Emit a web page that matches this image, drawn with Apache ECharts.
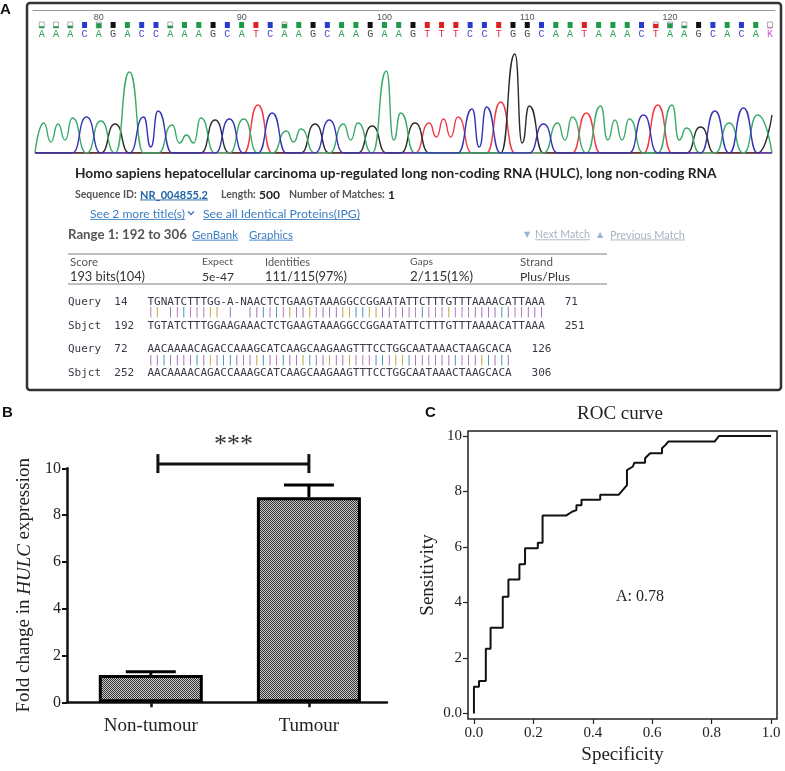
<!DOCTYPE html>
<html><head><meta charset="utf-8">
<script src="https://cdn.jsdelivr.net/npm/echarts@6/dist/echarts.min.js"></script>
<style>html,body{margin:0;padding:0;background:#fff}#c{width:785px;height:771px}</style>
</head><body><div id="c"></div>
<script>
// ================= DATA =================
// Panel A: chromatogram
const chromStart = 76;
const chromBases = "AAACAGACCAAAGCATCAAGCAAGAAGTTTCCTGGCAATAAACTAAGCACAK".split('');
const peakHeights = [30,29,35,36,32,29,81,36,42,28,18,35,33,34,34,48,40,22,24,29,33,29,30,27,82,40,30,30,34,36,44,46,51,99,47,29,30,36,40,47,33,34,38,48,48,25,26,42,30,45,38,38];
const troughHeights = {0:11,1:13,7:6,9:10,10:10,17:11,21:13,24:13,27:16,28:16,30:6,33:10,36:13,39:13,40:13,44:13};
const baseQuality = [0.3,0.3,0.4,1,0.8,1,1,1,1,0.4,1,1,1,1,1,1,1,0.7,1,1,1,1,1,1,1,1,1,1,1,1,1,1,1,1,1,1,1,1,1,1,1,1,1,0.7,0.8,0.4,1,1,1,1,1,0.2];
const rulerTicks = [80,90,100,110,120];

// Panel A: BLAST text
const blastTitle = "Homo sapiens hepatocellular carcinoma up-regulated long non-coding RNA (HULC), long non-coding RNA";
const seqIdLabel = "Sequence ID:", seqIdValue = "NR_004855.2";
const lengthLabel = "Length:", lengthValue = "500";
const matchesLabel = "Number of Matches:", matchesValue = "1";
const moreTitles = "See 2 more title(s)", identicalProteins = "See all Identical Proteins(IPG)";
const rangeText = "Range 1: 192 to 306", linkGenBank = "GenBank", linkGraphics = "Graphics";
const nextMatch = "Next Match", prevMatch = "Previous Match";
const statHeaders = ["Score","Expect","Identities","Gaps","Strand"];
const statValues = ["193 bits(104)","5e-47","111/115(97%)","2/115(1%)","Plus/Plus"];
const alignQuery = ["TGNATCTTTGG-A-NAACTCTGAAGTAAAGGCCGGAATATTCTTTGTTTAAAACATTAAA","AACAAAACAGACCAAAGCATCAAGCAAGAAGTTTCCTGGCAATAAACTAAGCACA"];
const alignSbjct = ["TGTATCTTTGGAAGAAACTCTGAAGTAAAGGCCGGAATATTCTTTGTTTAAAACATTAAA","AACAAAACAGACCAAAGCATCAAGCAAGAAGTTTCCTGGCAATAAACTAAGCACA"];
const queryStarts = ["14","72"], queryEnds = ["71","126"];
const sbjctStarts = ["192","252"], sbjctEnds = ["251","306"];

// Panel B
const fcCategories = ["Non-tumour","Tumour"];
const fcMeans = [1.17, 8.76];
const fcUpper = [1.31, 9.29];
const fcYTicks = [0,2,4,6,8,10];
const sigBracket = [0.045, 1.0, 10.18];
const sigLabel = "***";

// Panel C
const rocSpecificity = [0,0,0.017,0.017,0.04,0.04,0.056,0.056,0.097,0.097,0.116,0.116,0.153,0.153,0.172,0.172,0.215,0.215,0.231,0.231,0.31,0.33,0.345,0.345,0.362,0.362,0.425,0.425,0.487,0.505,0.515,0.515,0.535,0.54,0.576,0.576,0.593,0.633,0.633,0.645,0.654,0.81,0.825,1.0];
const rocSensitivity = [0,0.96,0.96,1.17,1.17,2.33,2.33,3.09,3.09,4.21,4.21,4.83,4.83,5.38,5.38,5.95,5.95,6.15,6.15,7.13,7.13,7.27,7.33,7.5,7.5,7.7,7.7,7.88,7.88,8.1,8.23,8.77,8.9,9.04,9.04,9.2,9.38,9.38,9.56,9.68,9.8,9.8,10,10];
const rocXTicks = [0,0.2,0.4,0.6,0.8,1.0];
const rocYTicks = [0,2,4,6,8,10];
const rocTitle = "ROC curve", aucLabel = "A: 0.78";

// ================= STYLES / HELPERS =================
const letterColors = {A:'#2ea35a',C:'#4646cc',G:'#4a4a4a',T:'#e0303a',K:'#d050d0'};
const squareColors = {A:'#1e9a4a',C:'#2a3ad0',G:'#111111',T:'#e02020',K:'#e070d0'};
const traceColors = {A:'#3aa96a',C:'#3434b4',G:'#2a2a2a',T:'#ef3b45'};
const matchColors = {A:'#9b6fb8',C:'#3f8fc0',G:'#c4a23c',T:'#b07ab2',N:'#999'};
const FA = 'Lato, "Open Sans", sans-serif';
const SERIF = '"Liberation Serif", "Times New Roman", serif';
const MONO = '"DejaVu Sans Mono", "Liberation Mono", monospace';
const LINK = '#3b7dc4';

const meas = document.createElement('canvas').getContext('2d');
function fitSize(text, weight, width, family){ meas.font = weight+' 100px '+family; return 100*width/meas.measureText(text).width; }
const gfx = [];
function addText(x, y, text, o){
  const fam = o.family || FA, wt = o.weight || 'normal';
  const size = o.width ? fitSize(text, wt, o.width, fam) : o.size;
  const font = (o.italic?'italic ':'') + wt + ' ' + size.toFixed(2) + 'px ' + fam;
  gfx.push({type:'text', x:x, y:y, silent:true, z:10,
    style:{text:text, font:font, fill:o.color||'#333', textAlign:o.align||'left', align:o.align||'left', textVerticalAlign:'middle', verticalAlign:'middle'}});
  if (o.underline){
    meas.font = font; const w = meas.measureText(text).width;
    gfx.push({type:'line', silent:true, z:10, shape:{x1:x, y1:y+size*0.45, x2:x+w, y2:y+size*0.45}, style:{stroke:o.color, lineWidth:0.9}});
  }
}

// Panel labels
addText(0, 10, 'A', {size:15, weight:'bold', family:'"Liberation Sans", Arial, sans-serif', color:'#111'});
addText(2, 413, 'B', {size:15, weight:'bold', family:'"Liberation Sans", Arial, sans-serif', color:'#111'});
addText(425, 413, 'C', {size:15, weight:'bold', family:'"Liberation Sans", Arial, sans-serif', color:'#111'});

// BLAST header
addText(75, 174, blastTitle, {weight:'bold', width:642, color:'#222'});
addText(75, 195, seqIdLabel, {weight:'bold', size:10.5, color:'#555'});
addText(140, 195, seqIdValue, {weight:'bold', size:11, color:'#1f64a8', underline:true});
addText(221, 195, lengthLabel, {weight:'bold', size:10.5, color:'#555'});
addText(259, 195, lengthValue, {weight:'bold', size:12, color:'#222'});
addText(289, 195, matchesLabel, {weight:'bold', size:10.5, color:'#555'});
addText(388, 195, matchesValue, {weight:'bold', size:12, color:'#222'});
addText(90, 214, moreTitles, {width:95, color:LINK, underline:true});
gfx.push({type:'polyline', silent:true, shape:{points:[[188,211.5],[191,214.5],[194,211.5]]}, style:{stroke:LINK, lineWidth:1.5, fill:null}});
addText(203, 214, identicalProteins, {width:157, color:LINK, underline:true});
addText(68, 235, rangeText, {weight:'bold', width:119, color:'#555'});
addText(192, 235, linkGenBank, {width:46, color:LINK, underline:true});
addText(249, 235, linkGraphics, {width:44, color:LINK, underline:true});
addText(524, 235, '\u25BC', {size:8, family:'"DejaVu Sans"', color:'#9db4d6'});
addText(535, 235, nextMatch, {width:55, color:'#a7b3c2', underline:true});
addText(597, 235, '\u25B2', {size:8, family:'"DejaVu Sans"', color:'#9db4d6'});
addText(610, 235, prevMatch, {width:75, color:'#a7b3c2', underline:true});
gfx.push({type:'line', silent:true, shape:{x1:68,y1:254,x2:607,y2:254}, style:{stroke:'#aaa', lineWidth:1.5}});
gfx.push({type:'line', silent:true, shape:{x1:68,y1:284,x2:607,y2:284}, style:{stroke:'#aaa', lineWidth:1.5}});
const statX = [70,202,265,410,520];
const headerW = [28,31,45,23,33];
const valueW = [75,32,82,63,50];
statHeaders.forEach((h,i)=>addText(statX[i], 262, h, {width:headerW[i], color:'#555'}));
statValues.forEach((v,i)=>addText(statX[i], 277, v, {width:valueW[i], color:'#333'}));

// Alignment rows
const monoSize = 11;
const monoFont = 'normal ' + monoSize + 'px ' + MONO;
function pad(s, n){ while (s.length < n) s += ' '; return s; }
function addMono(y, txt, fill){ gfx.push({type:'text', x:68, y:y, silent:true, z:10, style:{text:txt, font:monoFont, fill:fill, textAlign:'left', align:'left', textVerticalAlign:'middle', verticalAlign:'middle'}}); }
function addBars(y, q, s){
  let str = '            ';
  for (let i=0;i<s.length;i++){
    if (q[i] === s[i]) str += '{' + s[i].toLowerCase() + '|\u007C}'; else str += ' ';
  }
  const rich = {};
  ['A','C','G','T'].forEach(b=>{ rich[b.toLowerCase()] = {fill:matchColors[b], color:matchColors[b], font:monoFont}; });
  gfx.push({type:'text', x:68, y:y, silent:true, z:10, style:{text:str, font:monoFont, fill:'#999', rich:rich, textAlign:'left', align:'left', textVerticalAlign:'middle', verticalAlign:'middle'}});
}
const rowY = [[302,312,326],[349,360,373]];
for (let r=0;r<2;r++){
  addMono(rowY[r][0], pad('Query',7) + pad(queryStarts[r],5) + alignQuery[r] + '   ' + queryEnds[r], '#3a3a46');
  addBars(rowY[r][1], alignQuery[r], alignSbjct[r]);
  addMono(rowY[r][2], pad('Sbjct',7) + pad(sbjctStarts[r],5) + alignSbjct[r] + '   ' + sbjctEnds[r], '#3a3a46');
}

// Panel A border
gfx.push({type:'rect', silent:true, z:20, shape:{x:27, y:3, width:754, height:387, r:3}, style:{stroke:'#333', lineWidth:2.5, fill:null}});

// Panel C texts
addText(620, 414, rocTitle, {size:19, family:SERIF, color:'#222', align:'center'});
addText(640, 597, aucLabel, {size:16, family:SERIF, color:'#222', align:'center'});

// ================= SERIES =================
const traceBase = b => (b === 'K' ? 'G' : b);
const xMinA = 75.39, xMaxA = 127.35;
const traceSeries = ['T','G','A','C'].map(c => {
  const d = [[xMinA, 0]];
  chromBases.forEach((b,k) => {
    const pos = chromStart + k;
    d.push([pos, traceBase(b) === c ? peakHeights[k] : 0]);
    if (k < chromBases.length-1 && traceBase(b) === c && traceBase(chromBases[k+1]) === c) d.push([pos+0.5, troughHeights[k]]);
  });
  return {type:'line', xAxisIndex:1, yAxisIndex:1, data:d, smooth:0.6, smoothMonotone:'x', showSymbol:false, silent:true,
    lineStyle:{color:traceColors[c], width:1.4}};
});

const baseRow = {
  type:'custom', xAxisIndex:0, yAxisIndex:0, silent:true, clip:false,
  data: chromBases.map((b,k)=>[chromStart+k, 0.5]),
  renderItem(params, api){
    const k = params.dataIndex, b = chromBases[k], q = baseQuality[k];
    const x = api.coord([api.value(0), 0.5])[0];
    const sw = 5, sh = 6, sy = 22, col = squareColors[b];
    const ch = [];
    if (q >= 0.95) ch.push({type:'rect', shape:{x:x-sw/2, y:sy, width:sw, height:sh}, style:{fill:col}});
    else {
      ch.push({type:'rect', shape:{x:x-sw/2, y:sy, width:sw, height:sh}, style:{fill:'#fff', stroke:'#9a9a9a', lineWidth:0.8}});
      const fh = sh*q;
      ch.push({type:'rect', shape:{x:x-sw/2, y:sy+sh-fh, width:sw, height:fh}, style:{fill:col}});
    }
    ch.push({type:'text', x:x, y:34, style:{text:b, fill:letterColors[b], font:'10px "Liberation Mono", monospace', textAlign:'center', align:'center', textVerticalAlign:'middle', verticalAlign:'middle'}});
    return {type:'group', children:ch};
  }
};

// Pattern for bars
const pat = document.createElement('canvas'); pat.width = 2; pat.height = 2;
const pc = pat.getContext('2d'); pc.fillStyle = '#c8c8c8'; pc.fillRect(0,0,2,2);
pc.fillStyle = '#333333'; pc.fillRect(0,0,1,1); pc.fillRect(1,1,1,1);

const barSeries = {type:'bar', xAxisIndex:2, yAxisIndex:2, barWidth:104, silent:true, z:2,
  data: fcMeans.map((v,i)=>[i, v]),
  itemStyle:{color:{image:pat, repeat:'repeat'}, borderColor:'#000', borderWidth:3}};
const errSeries = {type:'custom', xAxisIndex:2, yAxisIndex:2, silent:true, z:3, clip:false,
  data: fcMeans.map((v,i)=>[i, v, fcUpper[i]]),
  renderItem(params, api){
    const p0 = api.coord([api.value(0), api.value(1)]), p1 = api.coord([api.value(0), api.value(2)]);
    const st = {stroke:'#000', lineWidth:3};
    return {type:'group', children:[
      {type:'line', shape:{x1:p0[0], y1:p0[1], x2:p1[0], y2:p1[1]}, style:st},
      {type:'line', shape:{x1:p1[0]-25, y1:p1[1], x2:p1[0]+25, y2:p1[1]}, style:st}]};
  }};
const bracketSeries = {type:'custom', xAxisIndex:2, yAxisIndex:2, silent:true, z:3, clip:false,
  data:[sigBracket],
  renderItem(params, api){
    const p0 = api.coord([api.value(0), api.value(2)]), p1 = api.coord([api.value(1), api.value(2)]);
    const st = {stroke:'#111', lineWidth:3};
    return {type:'group', children:[
      {type:'line', shape:{x1:p0[0], y1:p0[1], x2:p1[0], y2:p1[1]}, style:st},
      {type:'line', shape:{x1:p0[0], y1:p0[1]-10, x2:p0[0], y2:p0[1]+9}, style:st},
      {type:'line', shape:{x1:p1[0], y1:p1[1]-10, x2:p1[0], y2:p1[1]+9}, style:st},
      {type:'text', x:(p0[0]+p1[0])/2, y:p0[1]-19, style:{text:sigLabel, font:'26px ' + SERIF, fill:'#333', textAlign:'center', align:'center', textVerticalAlign:'middle', verticalAlign:'middle'}}]};
  }};

const rocSeries = {type:'line', xAxisIndex:3, yAxisIndex:3, silent:true, showSymbol:false,
  data: rocSpecificity.map((x,i)=>[x, rocSensitivity[i]]),
  lineStyle:{color:'#111', width:2}};

const axisTxt = {fontFamily:SERIF, color:'#222'};
const option = {
  animation:false,
  backgroundColor:'#fff',
  grid:[
    {left:33, top:10, width:742, height:30},
    {left:35, top:40, width:742, height:113},
    {left:67, top:468.3, width:320, height:234},
    {left:468, top:431, width:309, height:288, show:true, borderColor:'#222', borderWidth:1.5}
  ],
  xAxis:[
    {gridIndex:0, type:'value', min:xMinA, max:xMaxA, position:'top',
      axisLine:{show:true, onZero:false, lineStyle:{color:'#9a9a9a', width:1}}, axisTick:{show:false}, splitLine:{show:false},
      axisLabel:{inside:true, customValues:rulerTicks, color:'#555', fontSize:9, margin:3, fontFamily:'"Liberation Sans", sans-serif'}},
    {gridIndex:1, type:'value', min:xMinA, max:xMaxA, show:false},
    {gridIndex:2, type:'value', min:-0.53, max:1.494,
      axisLine:{show:true, onZero:false, lineStyle:{color:'#111', width:2.5}},
      axisTick:{show:true, customValues:[0,1], length:5, lineStyle:{color:'#111', width:2.5}},
      axisLabel:{customValues:[0,1], formatter:v=>fcCategories[Math.round(v)], fontSize:19, margin:14, ...axisTxt},
      splitLine:{show:false}},
    {gridIndex:3, type:'value', min:-0.02, max:1.02,
      axisLine:{show:false, onZero:false},
      axisTick:{show:true, customValues:rocXTicks, length:5, lineStyle:{color:'#222', width:1.2}},
      axisLabel:{customValues:rocXTicks, formatter:v=>v.toFixed(1), fontSize:15, margin:7, ...axisTxt},
      splitLine:{show:false},
      name:'Specificity', nameLocation:'middle', nameGap:27, nameTextStyle:{fontSize:19, ...axisTxt}}
  ],
  yAxis:[
    {gridIndex:0, type:'value', min:0, max:1, show:false},
    {gridIndex:1, type:'value', min:0, max:113, show:false},
    {gridIndex:2, type:'value', min:0, max:10, interval:2,
      axisLine:{show:true, onZero:false, lineStyle:{color:'#111', width:2.5}},
      axisTick:{show:true, length:5, lineStyle:{color:'#111', width:2}},
      axisLabel:{fontSize:16, margin:6, ...axisTxt},
      splitLine:{show:false},
      name:'Fold change in {i|HULC} expression', nameLocation:'middle', nameGap:33, nameRotate:90,
      nameTextStyle:{fontSize:19, ...axisTxt, rich:{i:{fontStyle:'italic', fontSize:19, fontFamily:SERIF, color:'#222'}}}},
    {gridIndex:3, type:'value', min:-0.2, max:10.18,
      axisLine:{show:false, onZero:false},
      axisTick:{show:true, customValues:rocYTicks, length:5, lineStyle:{color:'#222', width:1.2}},
      axisLabel:{customValues:rocYTicks, formatter:v=>(v===0?'0.0':String(v)), fontSize:15, margin:6, ...axisTxt},
      splitLine:{show:false},
      name:'Sensitivity', nameLocation:'middle', nameGap:30, nameRotate:90, nameTextStyle:{fontSize:19, ...axisTxt}}
  ],
  graphic: gfx,
  series: [...traceSeries, baseRow, barSeries, errSeries, bracketSeries, rocSeries]
};
const chart = echarts.init(document.getElementById('c'), null, {renderer:'canvas'});
chart.setOption(option);
</script>
</body></html>
